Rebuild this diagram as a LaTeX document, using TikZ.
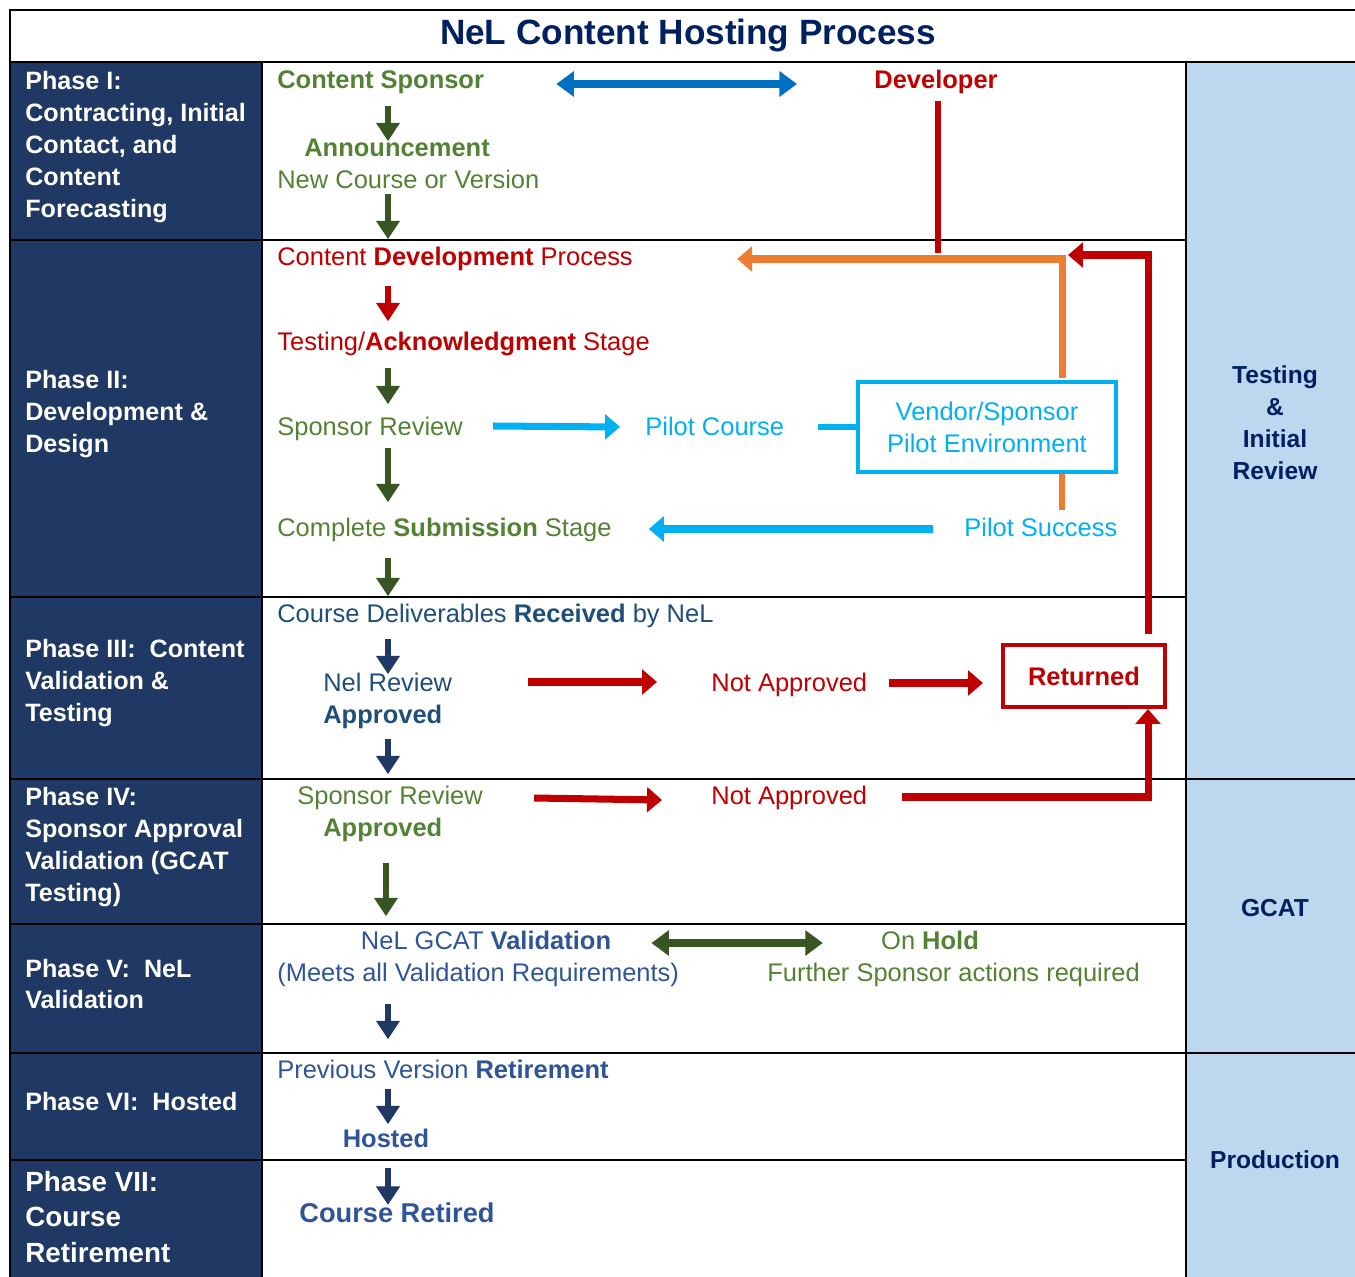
\documentclass[tikz,border=0pt]{standalone}
\usepackage{fontspec}
\setmainfont{Liberation Sans}
\usepackage{xcolor}
\usetikzlibrary{arrows.meta,positioning,calc}

\definecolor{navy}{HTML}{1F3864}
\definecolor{titleblue}{HTML}{002060}
\definecolor{paleblue}{HTML}{BDD7EE}
\definecolor{nelgreen}{HTML}{548235}
\definecolor{darkgreen}{HTML}{375623}
\definecolor{nelred}{HTML}{C00000}
\definecolor{nelorange}{HTML}{ED7D31}
\definecolor{skyblue}{HTML}{00B0F0}
\definecolor{midblue}{HTML}{0070C0}
\definecolor{slateblue}{HTML}{1F4E79}
\definecolor{textblue}{HTML}{2F5597}

\begin{document}
\begin{tikzpicture}[
    x=0.02cm, y=-0.02cm,
    txt/.style={font=\fontsize{14.5}{18.2}\selectfont, inner sep=0pt, text height=11.2pt, text depth=1.8pt, anchor=west},
    btxt/.style={txt, font=\fontsize{14.5}{18.2}\selectfont\bfseries},
    phase/.style={font=\fontsize{14.3}{18.2}\selectfont\bfseries, text=white, align=left, anchor=west, inner sep=0pt},
    side/.style={font=\fontsize{14}{18.2}\selectfont\bfseries, text=titleblue, align=center, inner sep=0pt},
    grid/.style={black, line width=1.1pt},
    dnarrow/.style={line width=3.5pt, -{Triangle[length=10.5pt,width=13pt]}},
    harrow/.style={line width=4pt, -{Triangle[length=8.5pt,width=14pt]}},
    biarrow/.style={line width=4pt, {Triangle[length=10pt,width=14pt]}-{Triangle[length=10pt,width=14pt]}},
    link/.style={line width=3.4pt},
    tbox/.style={draw, line width=2.3pt, inner sep=0pt, align=center},
]
\useasboundingbox (0,0) rectangle (1355,1277);

% --- Table background ---
\fill[navy] (10,62) rectangle (262,1277);
\fill[paleblue] (1186,62) rectangle (1355,1277);
\foreach \y in {240,597,779,924,1053,1160} {
    \draw[grid] (10,\y) -- (1186,\y);
}
\foreach \y in {779,1053} {
    \draw[grid] (1186,\y) -- (1355,\y);
}
\draw[grid] (10,62) -- (1355,62);
\draw[grid] (262,62) -- (262,1277);
\draw[grid] (1186,62) -- (1186,1277);
\draw[black, line width=1.7pt] (10,10) rectangle (1362,1284);

% --- Title ---
\node[font=\fontsize{20}{24}\selectfont\bfseries, text=titleblue] (title) at (688,35) {NeL Content Hosting Process};

% --- Phase labels ---
\node[phase] (ph1) at (25,147) {Phase I:\\Contracting, Initial\\Contact, and\\Content\\Forecasting};
\node[phase] (ph2) at (25,414) {Phase II:\\Development \&\\Design};
\node[phase] (ph3) at (25,683) {Phase III:\ \ Content\\Validation \&\\Testing};
\node[phase] (ph4) at (25,847) {Phase IV:\\Sponsor Approval\\Validation (GCAT\\Testing)};
\node[phase] (ph5) at (25,984) {Phase V:\ \ NeL\\Validation};
\node[phase] (ph6) at (25,1102) {Phase VI:\ \ Hosted};
\node[phase, font=\fontsize{15.8}{20.2}\selectfont\bfseries] (ph7) at (25,1217) {Phase VII:\\Course\\Retirement};

% --- Stage labels ---
\node[side] (trev) at (1275,423) {Testing\\\&\\Initial\\Review};
\node[side] (gcat) at (1275,908) {GCAT};
\node[side] (prod) at (1275,1160) {Production};

% --- Phase I ---
\node[btxt, text=nelgreen] (sponsor) at (277,80) {Content Sponsor};
\node[btxt, text=nelred, anchor=center] (developer) at (936,80) {Developer};
\node[btxt, text=nelgreen] (announce) at (304,148) {Announcement};
\node[txt, text=nelgreen] (newcourse) at (277,180) {New Course or Version};
\coordinate (ax) at (388,0);
\coordinate (ox) at (1062,0);
\coordinate (rx) at (1148,0);
\coordinate (devjoin) at (938,253);
\coordinate (rtip) at (1068,255);

% --- Phase II ---
\node[txt, text=nelred] (devproc) at (277,257) {Content \textbf{Development} Process};
\node[txt, text=nelred] (testack) at (277,342) {Testing/\textbf{Acknowledgment} Stage};
\node[txt, text=nelgreen] (sprev) at (277,427) {Sponsor Review};
\node[txt, text=skyblue] (pilot) at (645,427) {Pilot Course};
\node[tbox, draw=skyblue, text=skyblue, minimum width=5.16cm, minimum height=1.8cm,
      font=\fontsize{14.5}{18.2}\selectfont] (pilotenv) at (987,427) {Vendor/Sponsor\\Pilot Environment};
\node[txt, text=nelgreen] (complete) at (277,528) {Complete \textbf{Submission} Stage};
\node[txt, text=skyblue] (pilotok) at (964,528) {Pilot Success};

% --- Phase III ---
\node[txt, text=slateblue] (received) at (277,614) {Course Deliverables \textbf{Received} by NeL};
\node[txt, text=slateblue] (nelrev) at (323,683) {Nel Review};
\node[btxt, text=slateblue] (approvedA) at (323,715) {Approved};
\node[txt, text=nelred] (notappA) at (711,683) {Not Approved};
\node[tbox, draw=nelred, text=nelred, minimum width=3.24cm, minimum height=1.24cm,
      font=\fontsize{14.5}{18.2}\selectfont\bfseries] (returned) at (1084,676) {Returned};

% --- Phase IV ---
\node[txt, text=nelgreen] (sprevB) at (297,796) {Sponsor Review};
\node[btxt, text=nelgreen] (approvedB) at (323,828) {Approved};
\node[txt, text=nelred] (notappB) at (711,796) {Not Approved};

% --- Phase V ---
\node[txt, text=textblue, anchor=center] (gcatval) at (486,941) {NeL GCAT \textbf{Validation}};
\node[txt, text=textblue] (meets) at (277,973) {(Meets all Validation Requirements)};
\node[txt, text=nelgreen, anchor=center] (onhold) at (930,941) {On \textbf{Hold}};
\node[txt, text=nelgreen] (further) at (767,973) {Further Sponsor actions required};

% --- Phase VI and VII ---
\node[txt, text=textblue] (prevver) at (277,1070) {Previous Version \textbf{Retirement}};
\node[btxt, text=textblue, anchor=center] (hosted) at (386,1139) {Hosted};
\node[btxt, text=textblue, font=\fontsize{15.5}{19}\selectfont\bfseries, text height=12.2pt, text depth=2.3pt] (retired) at (299,1214) {Course Retired};

% --- Main flow (down arrows) ---
\draw[dnarrow, darkgreen] ($(sponsor.south -| ax)+(0,14)$) -- ($(announce.north -| ax)+(0,5)$);
\draw[dnarrow, darkgreen] ($(newcourse.south -| ax)+(0,2)$) -- ($(devproc.north -| ax)+(0,-6)$);
\draw[dnarrow, nelred] ($(devproc.south -| ax)+(0,17)$) -- ($(testack.north -| ax)+(0,-9)$);
\draw[dnarrow, darkgreen] ($(testack.south -| ax)+(0,14)$) -- ($(sprev.north -| ax)+(0,-11)$);
\draw[dnarrow, darkgreen] ($(sprev.south -| ax)+(0,9)$) -- ($(complete.north -| ax)+(0,-14)$);
\draw[dnarrow, darkgreen] ($(complete.south -| ax)+(0,18)$) -- ($(received.north -| ax)+(0,-6)$);
\draw[dnarrow, navy] ($(received.south -| ax)+(0,13)$) -- ($(nelrev.north -| ax)+(0,3)$);
\draw[dnarrow, navy] ($(approvedA.south -| ax)+(0,12)$) -- ($(sprevB.north -| ax)+(0,-10)$);
\draw[dnarrow, darkgreen] ($(approvedB.south -| ax)+(-2,23)$) -- ($(gcatval.north -| ax)+(-2,-13)$);
\draw[dnarrow, navy] ($(meets.south -| ax)+(0,19)$) -- ($(prevver.north -| ax)+(0,-19)$);
\draw[dnarrow, navy] ($(prevver.south -| ax)+(0,7)$) -- ($(hosted.north -| ax)+(0,-3)$);
\draw[dnarrow, navy] ($(hosted.south -| ax)+(0,17)$) -- ($(retired.north -| ax)+(0,4)$);

% --- Side connectors ---
\draw[biarrow, midblue] ($(sponsor.east)+(72,4)$) -- ($(developer.west)+(-77,4)$);
\draw[link, nelred] ($(developer.south)+(2,9)$) -- (devjoin);
\draw[harrow, nelorange] ($(pilotenv.north -| ox)+(0,-2)$) |- ($(devproc.east)+(104,2)$);
\draw[link, nelorange] (pilotenv.south -| ox) -- ($(pilotok.north -| ox)+(0,-6)$);
\draw[harrow, skyblue] ($(sprev.east)+(30,-1)$) -- ($(pilot.west)+(-25,0)$);
\draw[link, skyblue] ($(pilot.east)+(34,0)$) -- (pilotenv.west);
\draw[harrow, skyblue] ($(pilotok.west)+(-31,1)$) -- ($(complete.east)+(37,1)$);
\draw[harrow, nelred] ($(returned.north -| rx)+(0,-9)$) |- (rtip);

% --- Approval branches ---
\draw[harrow, nelred] ($(nelrev.east)+(75,-1)$) -- ($(notappA.west)+(-54,-1)$);
\draw[harrow, nelred] ($(notappA.east)+(22,0)$) -- ($(returned.west)+(-18,7)$);
\draw[harrow, nelred] ($(sprevB.east)+(51,2)$) -- ($(notappB.west)+(-49,4)$);
\draw[harrow, nelred] ($(notappB.east)+(35,1)$) -| (returned.south -| rx);
\draw[biarrow, darkgreen] ($(gcatval.east)+(40,2)$) -- ($(onhold.west)+(-58,2)$);

\end{tikzpicture}
\end{document}
